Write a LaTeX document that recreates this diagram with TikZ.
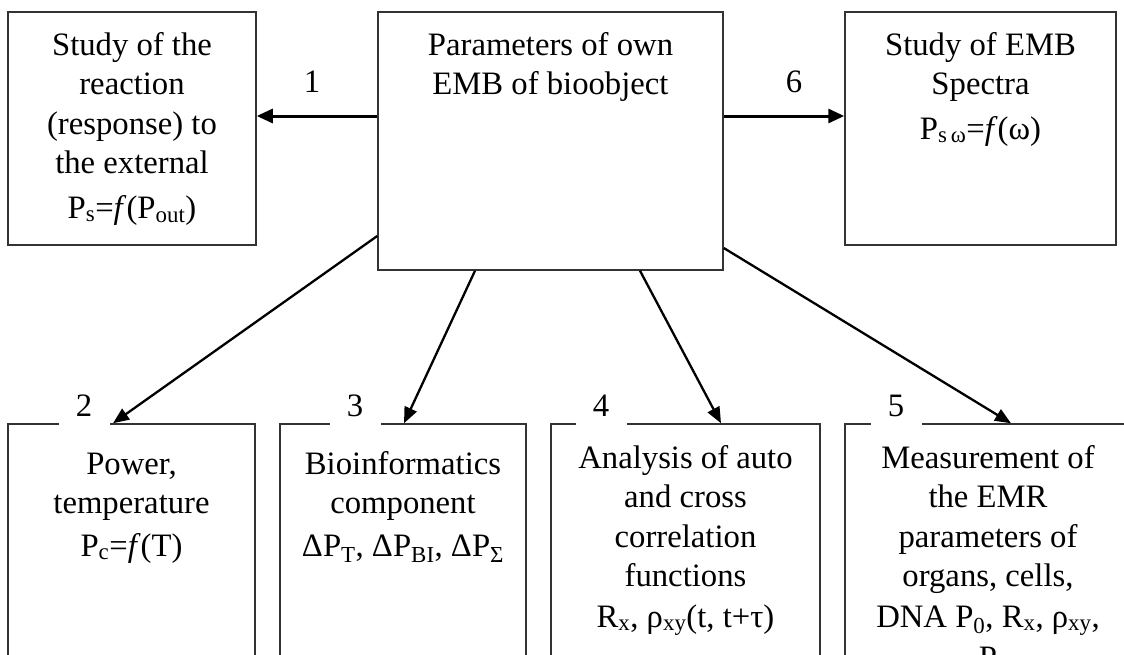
\documentclass[tikz,border=0pt]{standalone}
\usepackage{fontspec}
\setmainfont{Liberation Serif}
\usetikzlibrary{arrows.meta}
\newcommand\fstrut{\rule{0pt}{23.5pt}}
\begin{document}
\begin{tikzpicture}[x=1pt,y=-1pt,
  box/.style={draw=black!80, line width=1.5pt, rectangle, inner sep=0pt},
  txt/.style={anchor=north, inner sep=0pt, align=center,
    font=\fontsize{32.7}{39.5}\selectfont},
  num/.style={font=\fontsize{32.7}{39.5}\selectfont, inner sep=0pt},
  gapnum/.style={num, fill=white, minimum width=51pt, inner ysep=10pt, anchor=base},
  arr/.style={line width=2.3pt, -{Triangle[length=16pt,width=13pt]}},
  harr/.style={line width=3pt, -{Triangle[length=16pt,width=14pt]}}]
\useasboundingbox (0,0) rectangle (1124,654);
\clip (0,0) rectangle (1124,654);
% top row boxes
\node[box, minimum width=248pt, minimum height=233pt] (b1) at (132,128.5) {};
\node[box, minimum width=345pt, minimum height=258pt] (c) at (550.5,141) {};
\node[box, minimum width=271pt, minimum height=233pt] (b6) at (980.5,128.5) {};
% bottom row boxes
\node[box, minimum width=247pt, minimum height=256pt] (b2) at (131.5,552) {};
\node[box, minimum width=246pt, minimum height=256pt] (b3) at (403,552) {};
\node[box, minimum width=269pt, minimum height=256pt] (b4) at (685.5,552) {};
\node[box, minimum width=286pt, minimum height=256pt] (b5) at (988,552) {};
% texts
\node[txt] (t1) at (b1.north |- 0,31.5) {\fstrut Study of the\\reaction\\(response) to\\the external\\[5pt]P\textsubscript{s}=\textit{f}(P\textsubscript{out})};
\node[txt] (tc) at (c.north |- 0,31.5) {\fstrut Parameters of own\\EMB of bioobject};
\node[txt] (t6) at (b6.north |- 0,31.5) {\fstrut Study of EMB\\Spectra\\[5pt]P\textsubscript{s\,ω}=\textit{f}(ω)};
\node[txt] (t2) at (b2.north |- 0,450.5) {\fstrut Power,\\temperature\\[3pt]P\textsubscript{c}=\textit{f}(T)};
\node[txt] (t3) at (b3.north |- 0,450.5) {\fstrut Bioinformatics\\component\\[3pt]ΔP\textsubscript{T}, ΔP\textsubscript{BI}, ΔP\textsubscript{Σ}};
\node[txt] (t4) at (b4.north |- 0,444.5) {\fstrut Analysis of auto\\and cross\\correlation\\functions\\[1pt]R\textsubscript{x}, ρ\textsubscript{xy}(t, t+τ)};
\node[txt] (t5) at (b5.north |- 0,444.5) {\fstrut Measurement of\\the EMR\\parameters of\\organs, cells,\\[1pt]DNA P\textsubscript{0}, R\textsubscript{x}, ρ\textsubscript{xy},\\[2pt]P\hspace{30pt}};
% number labels
\node[num, anchor=base] (n1) at (312,92) {1};
\node[num, anchor=base] (n6) at (794,92) {6};
\node[gapnum] (n2) at (84,416) {2};
\node[gapnum] (n3) at (355,416) {3};
\node[gapnum] (n4) at (601,416) {4};
\node[gapnum] (n5) at (896,416) {5};
% connectors
\draw[harr] (c.west |- 0,116) -- (b1.east |- 0,116);
\draw[harr] (c.east |- 0,116) -- (b6.west |- 0,116);
\draw[arr] (c.west |- 0,236) -- (b2.north -| 113,0);
\draw[arr] (c.south -| 475,0) -- (b3.north -| 404,0);
\draw[arr] (c.south -| 640,0) -- (b4.north -| 721,0);
\draw[arr] (c.east |- 0,248) -- (b5.north -| 1011,0);
\end{tikzpicture}
\end{document}
